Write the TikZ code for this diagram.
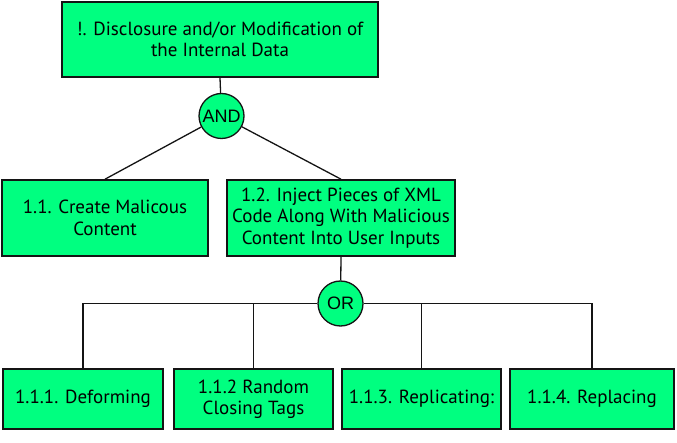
\documentclass[tikz,border=0pt]{standalone}
\usepackage{fontspec}
\setmainfont{PT Sans}
\newfontfamily\gatefont{Liberation Sans}
\usepackage{tikz}
\usetikzlibrary{shapes,arrows,positioning,calc}
\definecolor{attackgreen}{RGB}{0,255,128}
\definecolor{edgegray}{RGB}{20,20,20}

\begin{document}
\begin{tikzpicture}[x=1pt, y=1pt,
    goalbox/.style={draw=edgegray, line width=1.6pt, fill=attackgreen, align=center,
        inner sep=0pt, font=\fontsize{19}{21.5}\selectfont},
    gate/.style={circle, draw=edgegray, line width=1.3pt, fill=attackgreen, inner sep=0pt,
        minimum size=45pt, font=\gatefont\fontsize{18}{20}\selectfont},
    link/.style={draw=edgegray, line width=1.3pt}]
    \useasboundingbox (0,0) rectangle (677,442);

    % Root goal
    \node[goalbox, minimum width=316pt, minimum height=75pt] (root) at (220,402.5)
        {!. Disclosure and/or Modification of\\the Internal Data};
    \node[gate] (andgate) at (221.5,326) {AND};

    % Sub goals
    \node[goalbox, minimum width=206pt, minimum height=76pt] (create) at (105,224)
        {1.1. Create Malicous\\Content};
    \node[goalbox, minimum width=228pt, minimum height=76pt] (inject) at (341,224)
        {1.2. Inject Pieces of XML\\Code Along With Malicious\\Content Into User Inputs};
    \node[gate] (orgate) at (340.5,138.5) {OR};

    % Leaves
    \node[goalbox, minimum width=160pt, minimum height=60pt] (deform) at (83,43) {1.1.1. Deforming};
    \node[goalbox, minimum width=159pt, minimum height=60pt] (closing) at (253.5,43) {1.1.2 Random\\Closing Tags};
    \node[goalbox, minimum width=159pt, minimum height=60pt] (replicate) at (421.5,43) {1.1.3. Replicating:};
    \node[goalbox, minimum width=164pt, minimum height=60pt] (replace) at (592,43) {1.1.4. Replacing};

    % Connectors
    \draw[link] (root.south) -- (andgate);
    \draw[link] (andgate) -- (create.north);
    \draw[link] (andgate) -- (inject.north);
    \draw[link] (inject.south) -- (orgate);
    \draw[link] (orgate.west) -| (deform.north);
    \draw[link] (orgate.west) -| (closing.north);
    \draw[link] (orgate.east) -| (replicate.north);
    \draw[link] (orgate.east) -| (replace.north);
\end{tikzpicture}
\end{document}
